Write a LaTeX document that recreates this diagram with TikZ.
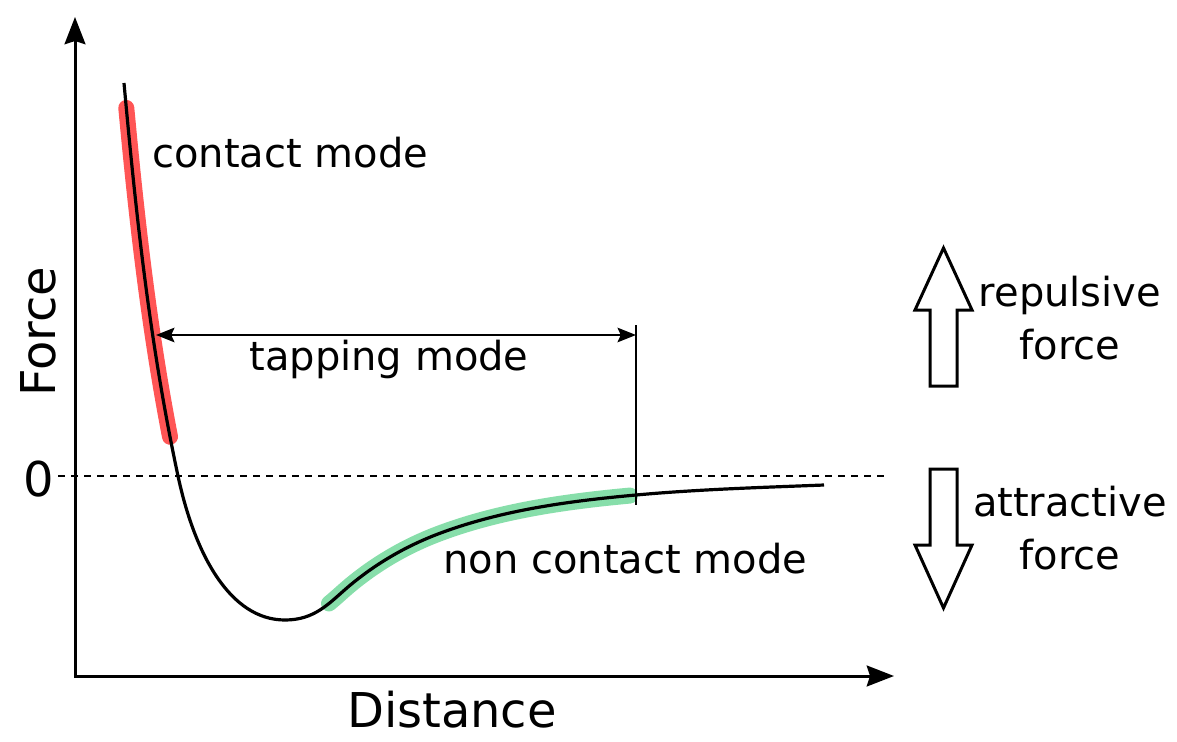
\documentclass[tikz,border=0pt]{standalone}
\usepackage{fontspec}
\setmainfont{DejaVu Sans}
\usepackage{tikz}
\usetikzlibrary{arrows.meta, positioning, calc}
\definecolor{fmVermelho}{HTML}{FF5555}
\definecolor{fmVerde}{HTML}{87DEAA}

\begin{document}
% one unit = 0.025cm, y grows downwards
\begin{tikzpicture}[x=0.025cm, y=-0.025cm]
  \tikzset{
    eixo/.style={line width=0.075cm, {Stealth[length=0.68cm, width=0.52cm, inset=0.08cm]}-{Stealth[length=0.68cm, width=0.52cm, inset=0.08cm]}},
    curva/.style={line width=0.08cm},
    realce/.style={line width=0.4cm, line cap=round},
    rotulo/.style={inner sep=0pt, font=\fontsize{28.45}{37}\selectfont},
    eixorot/.style={inner sep=0pt, font=\fontsize{34.1}{40}\selectfont},
    seta/.style={line width=0.065cm},
    blocoseta/.style={line width=0.075cm}}
  \useasboundingbox (0,0) rectangle (1177,742);
  % axes
  \coordinate (O) at (75,676);
  \coordinate (ytop) at (75,17);
  \coordinate (xend) at (894,676);
  \draw[eixo] (ytop) -- (O) -- (xend);
  \coordinate (z0) at (58,476);
  \coordinate (z1) at (885,476);
  \draw[line width=0.05cm, dash pattern=on 0.175cm off 0.15cm] (z0) -- (z1);
  \node[eixorot, anchor=base east] (zero) at (54,496) {0};
  \node[eixorot, anchor=base, rotate=90] (forca) at (55,332) {Force};
  \node[eixorot, anchor=base] (dist) at (452,727) {Distance};
  % highlighted parts, cut from the curve below
  \draw[realce, fmVermelho] (126.29,107.93) .. controls (136.59,218.21) and (148.82,327.22) .. (170.01,436.73);
  \draw[realce, fmVerde] (328.99,603.48) .. controls (335.31,598.41) and (341.35,592.67) .. (348,587)
    .. controls (374.7,564.3) and (405.3,546.4) .. (438,534)
    .. controls (498.72,510.91) and (565.18,501.57) .. (630,495.55);
  % force vs distance
  \draw[curva] (124,83) .. controls (136,215) and (150,345) .. (178,476)
    .. controls (194.7,554.2) and (230,620) .. (285,620)
    .. controls (315,620) and (329,603.2) .. (348,587)
    .. controls (374.7,564.3) and (405.3,546.4) .. (438,534)
    .. controls (500.6,510.2) and (569.3,501) .. (636,495)
    .. controls (698.7,489.3) and (761.1,487.5) .. (824,485);
  % tapping range
  \coordinate (tapL) at (156,335);
  \coordinate (tapR) at (636,335);
  \coordinate (vtop) at (636,325);
  \coordinate (vbot) at (636,505);
  \draw[seta, {Stealth[length=0.46cm, width=0.36cm, inset=0.08cm]}-{Stealth[length=0.46cm, width=0.36cm, inset=0.08cm]}] (tapL) -- (tapR);
  \draw[seta] (vtop) -- (vbot);
  \node[rotulo, anchor=base west] (contato) at (152,167) {contact mode};
  \node[rotulo, anchor=base] (tapping) at (389,370) {tapping mode};
  \node[rotulo, anchor=base west] (naocontato) at (443,573) {non contact mode};
  % direction of the force
  \def\cx{943.5}
  \foreach \b/\s/\t in {386/310/248, 469/545/608}
    \draw[blocoseta] (\cx-13.5,\b) -- (\cx-13.5,\s) -- (\cx-28.5,\s) -- (\cx,\t)
      -- (\cx+28.5,\s) -- (\cx+13.5,\s) -- (\cx+13.5,\b) -- cycle;
  \node[rotulo, anchor=base, align=center] (repulsiva) at (1070,359) {repulsive\\force};
  \node[rotulo, anchor=base, align=center] (atrativa) at (1070,569) {attractive\\force};
\end{tikzpicture}
\end{document}
